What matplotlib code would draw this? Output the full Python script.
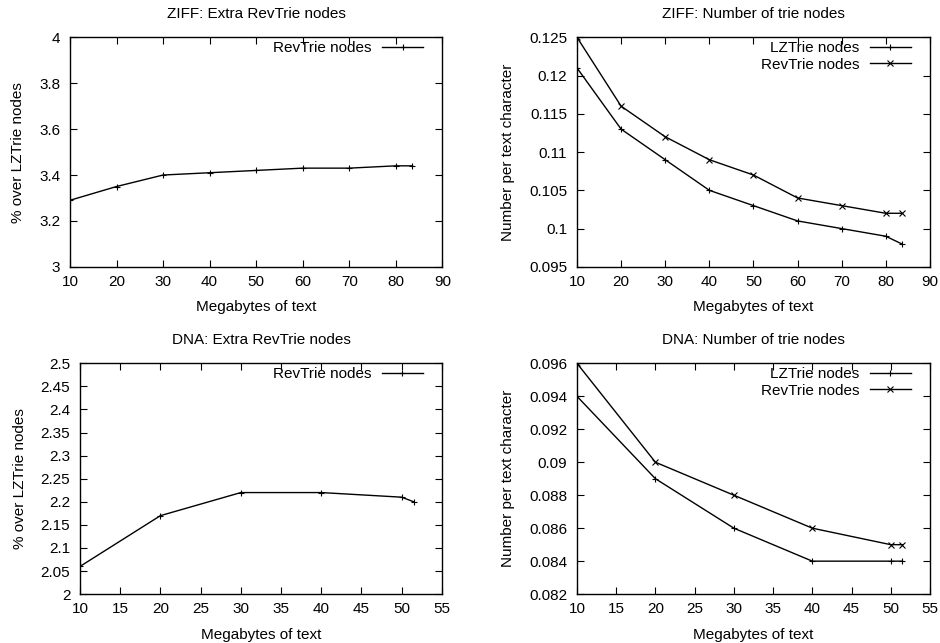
import matplotlib
matplotlib.use("Agg")
import matplotlib.pyplot as plt

plt.rcParams["font.family"] = ["Liberation Sans", "DejaVu Sans"]
plt.rcParams["font.size"] = 11

# ZIFF data
ziff_mb = [10, 20, 30, 40, 50, 60, 70, 80, 83.6]
ziff_extra = [3.29, 3.35, 3.40, 3.41, 3.42, 3.43, 3.43, 3.44, 3.44]
ziff_lz = [0.121, 0.113, 0.109, 0.105, 0.103, 0.101, 0.100, 0.099, 0.098]
ziff_rev = [0.125, 0.116, 0.112, 0.109, 0.107, 0.104, 0.103, 0.102, 0.102]

# DNA data
dna_mb = [10, 20, 30, 40, 50, 51.5]
dna_extra = [2.06, 2.17, 2.22, 2.22, 2.21, 2.20]
dna_lz = [0.094, 0.089, 0.086, 0.084, 0.084, 0.084]
dna_rev = [0.096, 0.090, 0.088, 0.086, 0.085, 0.085]

fig = plt.figure(figsize=(9.4, 6.43), dpi=100)

ax1 = fig.add_axes([0.0745, 0.585, 0.396, 0.357])
ax2 = fig.add_axes([0.6138, 0.585, 0.3755, 0.357])
ax3 = fig.add_axes([0.0851, 0.076, 0.385, 0.359])
ax4 = fig.add_axes([0.6138, 0.076, 0.3755, 0.359])


def style(ax, title, ylabel):
    ax.set_title(title, fontsize=11, pad=14)
    ax.set_xlabel("Megabytes of text", labelpad=8)
    ax.set_ylabel(ylabel, labelpad=10)
    ax.tick_params(axis="x", pad=6)
    ax.tick_params(axis="y", pad=7)
    ax.tick_params(direction="in", length=5, top=True, right=True, labelsize=11)
    for s in ax.spines.values():
        s.set_linewidth(1.0)
    # place legend in pixels from the top right corner, like gnuplot
    bb = ax.get_position()
    w_px = bb.width * 940
    h_px = bb.height * 643
    ax.legend(loc="upper right", frameon=False, markerfirst=False,
              handlelength=2.7, handletextpad=0.65, borderaxespad=0,
              labelspacing=0.15, fontsize=11,
              bbox_to_anchor=(1 - 13 / w_px, 1 + 2 / h_px))


lw = 1.0
ax1.plot(ziff_mb, ziff_extra, color="black", lw=lw, marker="+", ms=5,
         mew=0.8, label="RevTrie nodes")
ax1.set_xlim(10, 90)
ax1.set_ylim(3, 4)
ax1.set_xticks(range(10, 91, 10))
ax1.set_yticks([3, 3.2, 3.4, 3.6, 3.8, 4])
ax1.set_yticklabels(["3", "3.2", "3.4", "3.6", "3.8", "4"])
style(ax1, "ZIFF: Extra RevTrie nodes", "% over LZTrie nodes")

ax2.plot(ziff_mb, ziff_lz, color="black", lw=lw, marker="+", ms=5,
         mew=0.8, label="LZTrie nodes")
ax2.plot(ziff_mb, ziff_rev, color="black", lw=lw, marker="x", ms=4,
         mew=0.8, label="RevTrie nodes")
ax2.set_xlim(10, 90)
ax2.set_ylim(0.095, 0.125)
ax2.set_xticks(range(10, 91, 10))
ax2.set_yticks([0.095, 0.1, 0.105, 0.11, 0.115, 0.12, 0.125])
ax2.set_yticklabels(["0.095", "0.1", "0.105", "0.11", "0.115", "0.12", "0.125"])
style(ax2, "ZIFF: Number of trie nodes", "Number per text character")

ax3.plot(dna_mb, dna_extra, color="black", lw=lw, marker="+", ms=5,
         mew=0.8, label="RevTrie nodes")
ax3.set_xlim(10, 55)
ax3.set_ylim(2, 2.5)
ax3.set_xticks(range(10, 56, 5))
ax3.set_yticks([2, 2.05, 2.1, 2.15, 2.2, 2.25, 2.3, 2.35, 2.4, 2.45, 2.5])
ax3.set_yticklabels(["2", "2.05", "2.1", "2.15", "2.2", "2.25", "2.3",
                     "2.35", "2.4", "2.45", "2.5"])
style(ax3, "DNA: Extra RevTrie nodes", "% over LZTrie nodes")

ax4.plot(dna_mb, dna_lz, color="black", lw=lw, marker="+", ms=5,
         mew=0.8, label="LZTrie nodes")
ax4.plot(dna_mb, dna_rev, color="black", lw=lw, marker="x", ms=4,
         mew=0.8, label="RevTrie nodes")
ax4.set_xlim(10, 55)
ax4.set_ylim(0.082, 0.096)
ax4.set_xticks(range(10, 56, 5))
ax4.set_yticks([0.082, 0.084, 0.086, 0.088, 0.09, 0.092, 0.094, 0.096])
ax4.set_yticklabels(["0.082", "0.084", "0.086", "0.088", "0.09", "0.092",
                     "0.094", "0.096"])
style(ax4, "DNA: Number of trie nodes", "Number per text character")

fig.savefig("out.png", dpi=100)
